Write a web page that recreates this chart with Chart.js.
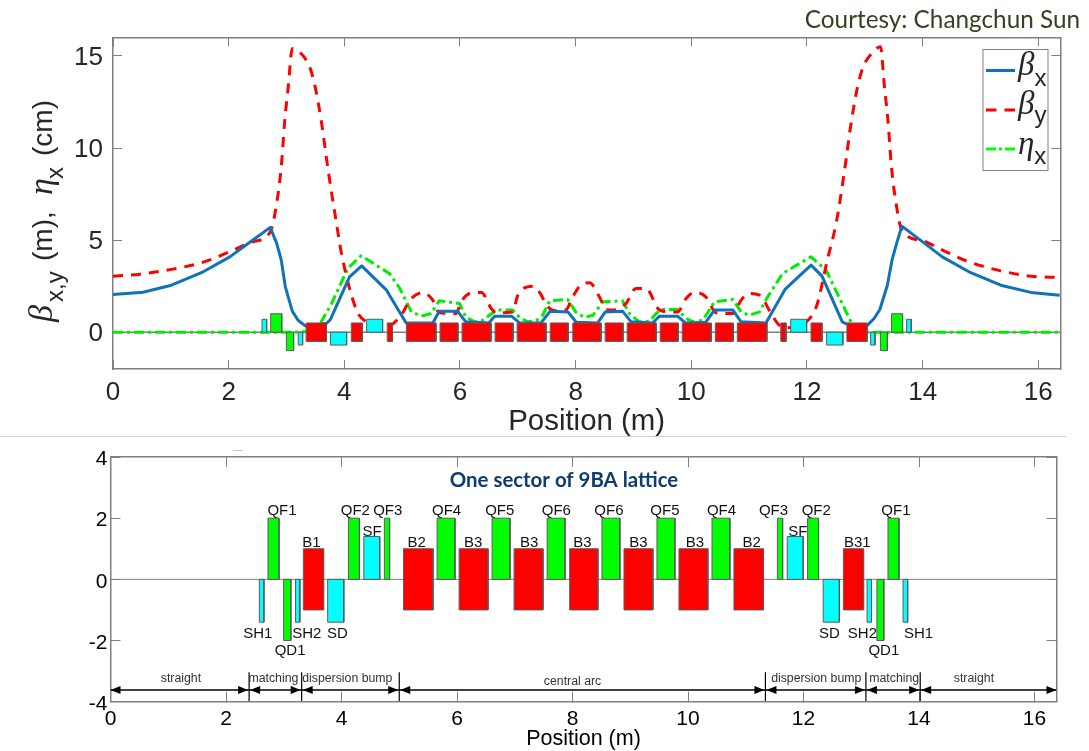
<!DOCTYPE html>
<html>
<head>
<meta charset="utf-8">
<script src="https://cdn.jsdelivr.net/npm/chart.js@4"></script>
<style>
html,body{margin:0;padding:0;background:#fff;width:1089px;height:751px;overflow:hidden}
canvas{position:absolute;left:0;display:block}
#courtesy{position:absolute;right:9px;top:4px;font:24.3px Lato,sans-serif;color:#33431f;white-space:nowrap}
#sep{position:absolute;left:0;top:436px;width:1066px;height:1px;background:#d0d0d0}
#mark{position:absolute;left:233px;top:450px;width:10px;height:1px;background:#c8c8c8}
</style>
</head>
<body>
<canvas id="top" width="1089" height="440" style="top:0"></canvas>
<canvas id="bot" width="1089" height="314" style="top:437px"></canvas>
<div id="sep"></div><div id="mark"></div>
<div id="courtesy">Courtesy: Changchun Sun</div>
<script>
const latticeLength = 16.38;

const betaXPos = [0,0.52,1.01,1.56,2.02,2.42,2.72,2.83,2.91,2.98,3.10,3.20,3.33,3.69,3.76,4.09,4.30,4.73,4.90,5.07,5.53,5.64,5.96,6.10,6.50,6.60,6.89,7.03,7.40,7.56,7.87,8.01,8.38,8.51,8.81,8.96,9.33,9.45,9.76,9.90,10.25,10.40,10.72,10.86,11.29,11.62,12.07,12.26,12.61,12.68,13.03,13.16,13.26,13.39,13.47,13.55,13.64,14.00,14.34,14.80,15.35,15.87,16.37];
const betaXVal = [2.05,2.17,2.55,3.28,4.09,5.00,5.69,4.82,3.91,2.46,1.14,0.65,0.33,0.47,0.69,3.00,3.60,2.28,1.38,0.50,0.50,1.13,1.13,0.56,0.50,0.87,0.87,0.50,0.50,1.14,1.09,0.54,0.50,1.09,1.14,0.56,0.50,0.87,0.87,0.50,0.54,1.20,1.20,0.56,0.50,2.32,3.64,3.04,0.56,0.45,0.33,0.74,1.23,2.55,3.91,4.82,5.76,4.90,4.09,3.28,2.55,2.16,2.01];

const betaYPos = [0,0.47,1.01,1.56,2.02,2.42,2.72,2.83,2.91,2.97,3.03,3.10,3.23,3.40,3.49,3.60,3.72,3.86,3.95,4.21,4.38,4.70,4.96,5.16,5.36,5.53,5.64,5.93,6.02,6.17,6.37,6.54,6.63,6.91,7.00,7.26,7.37,7.52,7.66,7.83,7.95,8.12,8.24,8.41,8.53,8.64,8.87,9.04,9.22,9.42,9.51,9.76,9.91,10.05,10.25,10.43,10.72,10.86,11.00,11.18,11.38,11.52,11.64,12.07,12.18,12.35,12.51,12.65,12.77,12.88,12.97,13.14,13.27,13.34,13.40,13.46,13.54,13.64,14.00,14.34,14.80,15.35,15.87,16.37];
const betaYVal = [3.04,3.15,3.41,3.80,4.37,4.91,5.45,7.00,9.00,11.50,13.30,15.40,15.20,14.40,13.40,11.50,8.80,6.00,4.28,1.20,0.56,0.24,0.83,1.83,2.14,1.74,1.05,1.01,1.65,2.10,2.16,1.29,1.05,1.10,2.00,2.50,2.19,1.38,1.16,1.20,1.92,2.64,2.68,1.92,1.23,1.20,1.56,2.37,2.37,1.29,1.14,1.10,1.83,2.16,1.92,1.05,1.01,1.74,2.10,2.01,1.01,0.38,0.24,0.83,1.56,3.90,6.00,8.80,11.50,13.40,14.40,15.20,15.50,13.30,11.50,9.00,7.00,5.54,4.96,4.46,3.82,3.33,3.04,2.97];

const etaXPos = [0,1,2,2.7,3.0,3.33,3.60,3.78,4.06,4.29,4.78,4.96,5.16,5.33,5.50,5.64,5.99,6.10,6.25,6.37,6.51,6.63,6.91,7.03,7.17,7.32,7.43,7.55,7.86,8.00,8.15,8.30,8.47,8.81,8.93,9.10,9.28,9.39,9.48,9.76,9.91,10.05,10.20,10.40,10.72,10.86,11.00,11.18,11.32,11.58,11.87,12.07,12.33,12.76,13.03,14,15,16.37];
const etaXVal = [0,0,0,0,0,0.02,0.56,1.56,3.46,4.15,3.19,2.37,1.10,0.87,1.01,1.70,1.56,0.83,0.56,0.60,0.92,1.20,1.20,0.80,0.56,0.62,0.92,1.70,1.78,1.10,0.80,0.92,1.65,1.70,1.01,0.56,0.60,1.01,1.23,1.23,0.74,0.54,0.65,1.65,1.78,1.10,0.92,1.10,1.92,3.19,3.73,4.09,3.37,0.56,0,0,0,0];

const magnetNames = ['SH1','QF1','QD1','SH2','B1','SD','QF2','SF','QF3','B2','QF4','B3','QF5','B3','QF6','B3','QF6','B3','QF5','B3','QF4','B2','QF3','SF','QF2','SD','B31','SH2','QD1','QF1','SH1'];
const magnetStart = [2.577,2.727,2.998,3.203,3.339,3.76,4.12,4.386,4.742,5.073,5.655,6.036,6.607,6.988,7.56,7.95,8.51,8.891,9.462,9.843,10.415,10.795,11.547,11.718,12.07,12.34,12.69,13.10,13.27,13.462,13.723];
const magnetEnd = [2.657,2.918,3.123,3.279,3.69,4.04,4.31,4.662,4.833,5.585,5.965,6.537,6.918,7.489,7.87,8.44,8.82,9.392,9.773,10.344,10.725,11.307,11.638,11.994,12.26,12.62,13.04,13.177,13.39,13.653,13.803];
const magnetLevel = [-1.4,2,-2,-1.4,1,-1.4,2,1.4,2,1,2,1,2,1,2,1,2,1,2,1,2,1,2,1.4,2,-1.4,1,-1.4,-2,2,-1.4];
const labelX = [2.55,2.97,3.11,3.40,3.48,3.93,4.24,4.53,4.80,5.30,5.82,6.28,6.74,7.25,7.72,8.17,8.63,9.14,9.60,10.12,10.58,11.10,11.48,11.90,12.22,12.45,12.93,13.02,13.39,13.60,13.99];
const labelY = [-1.79,2.23,-2.34,-1.79,1.2,-1.79,2.23,1.56,2.23,1.2,2.23,1.2,2.23,1.2,2.23,1.2,2.23,1.2,2.23,1.2,2.23,1.2,2.23,1.56,2.23,-1.79,1.2,-1.79,-2.34,2.23,-1.79];

const sectionNames = ['straight','matching','dispersion bump','central arc','dispersion bump','matching','straight'];
const sectionEdges = [0,2.4,3.31,5.0,11.34,13.08,14.02,16.38];
const sectionLabelX = [1.22,2.82,4.1,8.0,12.22,13.57,14.95];
const sectionLabelY = [-3.25,-3.25,-3.25,-3.33,-3.25,-3.25,-3.25];
const arrowLevel = -3.62;
const dividerTop = -3.04;
const dividerBottom = -3.98;

const xTickStep = 2;
const topYTickStep = 5;
const botYTickStep = 2;

const RED='#ff0000', GREEN='#00ff00', CYAN='#00ffff', EDGE='#5a5a5a', AXIS='#808080';
const BLUE='#1272b8', DASHRED='#ff0000', DASHGREEN='#00ec00';

function xy(xs, ys){ return xs.map((x,i)=>({x, y:ys[i]})); }

function rectSets(low, high, x0, x1, color, lw){
  return [
    {data:[{x:x0,y:low},{x:x0,y:high},{x:x1,y:high},{x:x1,y:low}], showLine:true, pointRadius:0, borderWidth:0, borderColor:'transparent', backgroundColor:color, fill:{value:low}, order:1},
    {data:[{x:x0,y:low},{x:x0,y:high},{x:x1,y:high},{x:x1,y:low},{x:x0,y:low}], showLine:true, pointRadius:0, borderWidth:lw, borderColor:EDGE, fill:false, order:0}
  ];
}
function magnetColor(name){ return name[0]==='B'?RED : name[0]==='Q'?GREEN : CYAN; }

function bottomMagnets(){
  return magnetNames.flatMap((n,i)=>{
    const h=magnetLevel[i];
    const low = n[0]==='B' ? -h : Math.min(0,h);
    const high = n[0]==='B' ? h : Math.max(0,h);
    return rectSets(low,high,magnetStart[i],magnetEnd[i],magnetColor(n),1);
  });
}
function topMagnets(){
  return magnetNames.flatMap((n,i)=>{
    let h=magnetLevel[i]/2;
    if(n==='SH1') h=-h;
    const outer = n==='QF1'||n==='QD1';
    let low,high,color;
    if(n[0]==='S'||outer){ low=Math.min(0,h); high=Math.max(0,h); color=outer?GREEN:CYAN; }
    else { low=-0.5; high=0.5; color=RED; }
    return rectSets(low,high,magnetStart[i],magnetEnd[i],color,1);
  });
}
function baseLine(width){
  return {data:[{x:0,y:0},{x:latticeLength,y:0}], showLine:true, pointRadius:0, borderWidth:width, borderColor:AXIS, fill:false, order:5};
}
function curve(xs,ys,color,dash){
  return {data:xy(xs,ys), showLine:true, pointRadius:0, borderWidth:3, borderColor:color, borderDash:dash, fill:false, tension:0, order:2, borderJoinStyle:'round'};
}
const blueSet = curve(betaXPos,betaXVal,BLUE,[]);
const redSet = {...curve(betaYPos,betaYVal,DASHRED,[10,8]), cubicInterpolationMode:'monotone'};
const greenSet = curve(etaXPos,etaXVal,DASHGREEN,[10,4,3,4]);

function rich(ctx,x,y,segs,rot,color){
  ctx.save(); ctx.translate(x,y); if(rot) ctx.rotate(rot);
  ctx.textAlign='left'; ctx.textBaseline='alphabetic'; ctx.fillStyle=color||'#262626';
  let cx=0;
  for(const s of segs){ ctx.font=s.font; if(s.at!==undefined) cx=s.at; ctx.fillText(s.text,cx,s.dy||0); cx+=ctx.measureText(s.text).width; }
  ctx.restore();
}
const GREEK='italic 34px "Liberation Serif"', SUB='24px "Liberation Sans"', MAIN='28px "Liberation Sans"';

const topDecor={id:'topDecor',afterDraw(chart){
  const c=chart.ctx;
  rich(c,51.5,322,[
    {text:'β',font:GREEK,at:0},{text:'x,y',font:SUB,dy:11,at:20},
    {text:'(m),',font:MAIN,at:61},
    {text:'η',font:GREEK,at:127},{text:'x',font:SUB,dy:11,at:143},
    {text:'(cm)',font:MAIN,at:166}
  ],-Math.PI/2);
  c.save();
  c.fillStyle='#fff'; c.strokeStyle=AXIS; c.lineWidth=1;
  c.fillRect(983,49.5,65,121); c.strokeRect(983,49.5,65,121);
  const rows=[[70.5,blueSet],[110,redSet],[149,greenSet]];
  for(const [y,ds] of rows){
    c.beginPath(); c.setLineDash(ds===blueSet?[]:ds===redSet?[10.5,8]:[10,3,3,3]); c.lineWidth=3;
    c.strokeStyle=ds===greenSet?GREEN:ds.borderColor; c.moveTo(986,y); c.lineTo(1015,y); c.stroke();
  }
  c.restore();
  const LG='italic 33px "Liberation Serif"', LS='24px "Liberation Sans"';
  rich(c,1018,75,[{text:'β',font:LG},{text:'x',font:LS,dy:11}]);
  rich(c,1018,114,[{text:'β',font:LG},{text:'y',font:LS,dy:9}]);
  rich(c,1018,154,[{text:'η',font:LG},{text:'x',font:LS,dy:10}]);
}};
const botDecor={id:'botDecor',afterDraw(chart){
  const c=chart.ctx, sx=chart.scales.x, sy=chart.scales.y;
  c.save();
  c.textAlign='center'; c.textBaseline='middle';
  c.fillStyle='#111'; c.font='15px "Liberation Sans"';
  magnetNames.forEach((n,i)=>c.fillText(n,sx.getPixelForValue(labelX[i]),sy.getPixelForValue(labelY[i])));
  c.fillStyle='#333'; c.font='12.3px "Liberation Sans"';
  sectionNames.forEach((n,i)=>c.fillText(n,sx.getPixelForValue(sectionLabelX[i]),sy.getPixelForValue(sectionLabelY[i])));
  c.fillStyle='#000';
  const ay=sy.getPixelForValue(arrowLevel);
  sectionEdges.forEach((e,i)=>{
    const px=sx.getPixelForValue(e);
    if(i<sectionEdges.length-1){ const g=i?1:0; c.beginPath(); c.moveTo(px+g,ay); c.lineTo(px+10+g,ay-4); c.lineTo(px+10+g,ay+4); c.closePath(); c.fill(); }
    if(i>0){ const g=i<7?1:0; c.beginPath(); c.moveTo(px-g,ay); c.lineTo(px-10-g,ay-4); c.lineTo(px-10-g,ay+4); c.closePath(); c.fill(); }
  });
  c.font='bold 20.4px Lato'; c.fillStyle='#0f3c6e';
  c.fillText('One sector of 9BA lattice',564,43);
  c.restore();
}};

function xAxis(fontSize,titleSize,tick,pad,height,color,titlePad){
  return {type:'linear',position:'bottom',min:0,max:latticeLength,
    ticks:{stepSize:xTickStep,includeBounds:false,color,font:{family:'Liberation Sans',size:fontSize},padding:pad,maxRotation:0,autoSkip:false},
    grid:{drawOnChartArea:false,color:AXIS,tickLength:-tick},border:{color:AXIS,width:1.5},
    title:{display:true,text:'Position (m)',color,font:{family:'Liberation Sans',size:titleSize},padding:{top:0,bottom:titlePad}},
    afterFit:s=>{s.height=height;s.paddingLeft=0;s.paddingRight=0;}};
}
function yAxis(min,max,step,fontSize,tick,pad,width,color,shift){
  return {type:'linear',position:'left',min,max,
    ticks:{stepSize:step,includeBounds:false,color,font:{family:'Liberation Sans',size:fontSize},padding:pad,labelOffset:shift},
    grid:{drawOnChartArea:false,color:AXIS,tickLength:-tick},border:{color:AXIS,width:1.5},
    afterFit:s=>{s.width=width;s.paddingTop=0;s.paddingBottom=0;}};
}
function mirrorX(tick){
  return {type:'linear',position:'top',min:0,max:latticeLength,ticks:{display:false,stepSize:xTickStep,includeBounds:false},
    grid:{drawOnChartArea:false,color:AXIS,tickLength:-tick},border:{color:AXIS,width:1.5},afterFit:s=>{s.height=0;s.paddingLeft=0;s.paddingRight=0;}};
}
function mirrorY(min,max,step,tick){
  return {type:'linear',position:'right',min,max,ticks:{display:false,stepSize:step,includeBounds:false},
    grid:{drawOnChartArea:false,color:AXIS,tickLength:-tick},border:{color:AXIS,width:1.5},afterFit:s=>{s.width=0;s.paddingTop=0;s.paddingBottom=0;}};
}
const common={responsive:false,animation:false,maintainAspectRatio:false,
  plugins:{legend:{display:false},tooltip:{enabled:false},title:{display:false}},
  elements:{line:{tension:0,capBezierPoints:false}}};

new Chart(document.getElementById('top'),{
  type:'scatter',
  data:{datasets:[baseLine(1.5),blueSet,redSet,greenSet,...topMagnets()]},
  options:{...common,
    layout:{padding:{left:0,top:37.5,right:28.7,bottom:0}},
    scales:{
      x:xAxis(26,29.4,9,17,71,'#262626',0.8),
      y:yAxis(-2,16,topYTickStep,26,9,19,113,'#262626',1.5),
      x2:mirrorX(9),
      y2:mirrorY(-2,16,topYTickStep,9)
    }},
  plugins:[topDecor]
});

new Chart(document.getElementById('bot'),{
  type:'scatter',
  data:{datasets:[
    baseLine(1),
    ...bottomMagnets(),
    ...sectionEdges.slice(0,-1).map((e,i)=>({data:[{x:e,y:arrowLevel},{x:sectionEdges[i+1],y:arrowLevel}],showLine:true,pointRadius:0,borderWidth:1.5,borderColor:'#000',fill:false,order:3})),
    ...sectionEdges.slice(1,-1).map(e=>({data:[{x:e,y:dividerTop},{x:e,y:dividerBottom}],showLine:true,pointRadius:0,borderWidth:1.2,borderColor:'#000',fill:false,order:3}))
  ]},
  options:{...common,
    layout:{padding:{left:0,top:20,right:32.5,bottom:0}},
    scales:{
      x:xAxis(21,21.5,10,15,49.3,'#000',-1),
      y:yAxis(-4,4,botYTickStep,21,10,13,110.5,'#000',2.5),
      x2:mirrorX(10),
      y2:mirrorY(-4,4,botYTickStep,10)
    }},
  plugins:[botDecor]
});
</script>
</body>
</html>
